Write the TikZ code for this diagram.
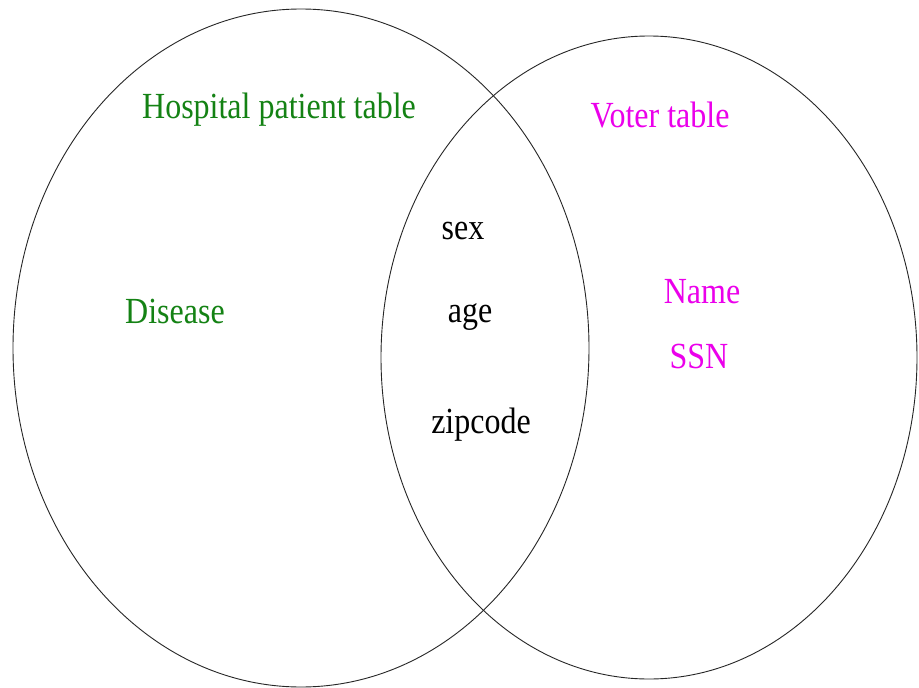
\documentclass[tikz,border=0pt]{standalone}
\usepackage{fontspec}
\setmainfont{Liberation Serif}
\definecolor{hospgreen}{RGB}{20,130,20}
\definecolor{votermag}{RGB}{235,0,235}
% slightly tall lettering for the labels
\newcommand{\tallword}[1]{\scalebox{1}[1.15]{#1}}
\begin{document}
\begin{tikzpicture}[x=1pt,y=-1pt,
  setline/.style={draw=black!85,line width=0.9pt},
  lbl/.style={anchor=base,inner sep=0pt,font=\fontsize{32}{36}\selectfont},
  hosp/.style={lbl,text=hospgreen},
  voter/.style={lbl,text=votermag},
  shared/.style={lbl,text=black}]
  \useasboundingbox[fill=white] (0,0) rectangle (919,688);
  % the two sets
  \draw[setline] (301,348) ellipse [x radius=288, y radius=339];
  \draw[setline] (649,357.5) ellipse [x radius=268, y radius=321.5];
  % set titles
  \node[hosp] (hosptitle) at (279,118) {\tallword{Hospital patient table}};
  \node[voter] (votertitle) at (660,127) {\tallword{Voter table}};
  % attributes only in the hospital table
  \node[hosp] (disease) at (175,323) {\tallword{Disease}};
  % attributes shared by both tables
  \node[shared] (sex) at (463,239) {\tallword{sex}};
  \node[shared] (age) at (470,322) {\tallword{age}};
  \node[shared] (zip) at (481,433) {\tallword{zipcode}};
  % attributes only in the voter table
  \node[voter] (name) at (702,303) {\tallword{Name}};
  \node[voter] (ssn) at (699,368) {\tallword{SSN}};
\end{tikzpicture}
\end{document}
